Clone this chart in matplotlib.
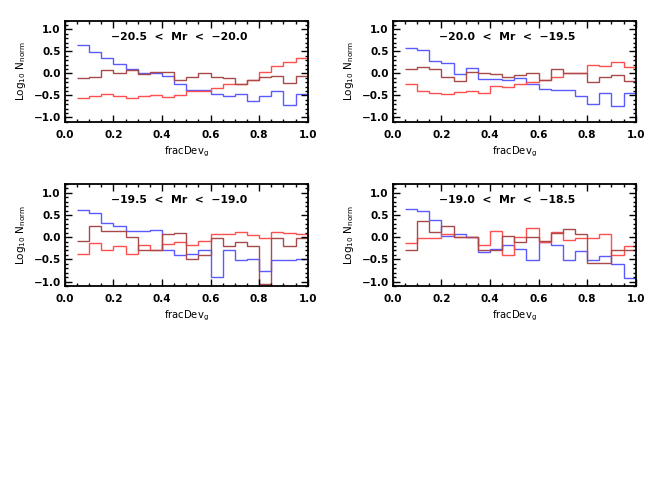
import numpy as np
import matplotlib
matplotlib.use('Agg')
import matplotlib.pyplot as plt
from matplotlib.ticker import MultipleLocator

plt.rcParams['font.family'] = ['DejaVu Sans']
plt.rcParams['font.weight'] = 'bold'
plt.rcParams['mathtext.fontset'] = 'custom'
plt.rcParams['mathtext.rm'] = 'DejaVu Sans:bold'
plt.rcParams['mathtext.it'] = 'DejaVu Sans:bold'

# bin edges for fracDev_g histograms
edges = np.arange(0.05, 1.0001, 0.05)

titles = ['-20.5 < Mr < -20.0', '-20.0 < Mr < -19.5',
          '-19.5 < Mr < -19.0', '-19.0 < Mr < -18.5']

# log10 N_norm per bin
blue1 = [0.64, 0.49, 0.36, 0.22, 0.09, 0.02, 0.01, -0.05, -0.23, -0.38,
         -0.38, -0.47, -0.52, -0.47, -0.62, -0.52, -0.40, -0.72, -0.47]
red1 = [-0.56, -0.51, -0.47, -0.52, -0.57, -0.52, -0.50, -0.54, -0.50, -0.40,
        -0.39, -0.34, -0.25, -0.23, -0.14, 0.04, 0.17, 0.25, 0.35]
brown1 = [-0.11, -0.09, 0.07, 0.02, 0.07, -0.01, 0.04, 0.04, -0.14, -0.07,
          0.02, -0.07, -0.10, -0.23, -0.16, -0.09, -0.06, -0.22, -0.06]

blue2 = [0.58, 0.53, 0.28, 0.23, -0.01, 0.12, -0.12, -0.12, -0.14, -0.10,
         -0.25, -0.35, -0.38, -0.38, -0.52, -0.69, -0.45, -0.74, -0.45]
red2 = [-0.25, -0.41, -0.45, -0.46, -0.43, -0.41, -0.45, -0.29, -0.32, -0.23,
        -0.20, -0.14, -0.07, 0.02, 0.00, 0.19, 0.17, 0.25, 0.14]
brown2 = [0.11, 0.15, 0.09, -0.09, -0.18, 0.04, 0.01, -0.01, -0.09, -0.03,
          0.01, -0.16, 0.09, 0.00, 0.02, -0.20, -0.09, -0.03, -0.18]

blue3 = [0.61, 0.54, 0.31, 0.26, 0.14, 0.14, 0.17, -0.30, -0.41, -0.37,
         -0.30, -0.90, -0.30, -0.52, -0.50, -0.77, -0.52, -0.52, -0.49]
red3 = [-0.37, -0.14, -0.30, -0.21, -0.38, -0.17, -0.30, -0.15, -0.12, -0.17,
        -0.08, 0.07, 0.07, 0.12, 0.04, -0.01, 0.12, 0.10, 0.08]
brown3 = [-0.09, 0.25, 0.14, 0.14, 0.01, -0.28, -0.28, 0.08, 0.09, -0.50,
          -0.41, -0.03, -0.20, -0.10, -0.20, -1.05, -0.03, -0.20, -0.01]

blue4 = [0.64, 0.59, 0.39, 0.03, 0.08, 0.01, -0.33, -0.26, -0.17, -0.27,
         -0.52, -0.12, -0.17, -0.52, -0.32, -0.52, -0.43, -0.61, -0.92]
red4 = [-0.14, -0.01, -0.03, 0.07, 0.01, 0.01, -0.17, 0.14, -0.41, 0.01,
        0.21, -0.12, 0.12, -0.07, -0.03, -0.03, 0.06, -0.41, -0.19]
brown4 = [-0.28, 0.37, 0.12, 0.26, 0.01, 0.01, -0.28, -0.28, 0.03, -0.12,
          0.01, -0.08, 0.09, 0.19, 0.08, -0.59, -0.59, -0.28, -0.28]

panels = [(blue1, red1, brown1), (blue2, red2, brown2),
          (blue3, red3, brown3), (blue4, red4, brown4)]

xticks = [0.0, 0.2, 0.4, 0.6, 0.8, 1.0]
yticks = [-1.0, -0.5, 0.0, 0.5, 1.0]

# axes positions in figure fractions
positions = [[0.099, 0.753, 0.370, 0.205], [0.599, 0.753, 0.370, 0.205],
             [0.099, 0.420, 0.370, 0.207], [0.599, 0.420, 0.370, 0.207]]

fig = plt.figure(figsize=(6.56, 4.93), dpi=100)

for i in range(4):
    ax = fig.add_axes(positions[i])
    blue, red, brown = panels[i]
    ax.stairs(blue, edges, baseline=None, color='#5a5aff', lw=1.0)
    ax.stairs(red, edges, baseline=None, color='#ff5050', lw=1.0)
    ax.stairs(brown, edges, baseline=None, color='#a84a4a', lw=1.0)
    ax.set_xlim(0, 1.0)
    ax.set_ylim(-1.1, 1.2)
    ax.set_xticks(xticks)
    ax.set_xticklabels(['%.1f' % v for v in xticks])
    ax.set_yticks(yticks)
    ax.set_yticklabels([('%.1f' % v).replace('-', '\u2212') for v in yticks])
    ax.xaxis.set_minor_locator(MultipleLocator(0.05))
    ax.yaxis.set_minor_locator(MultipleLocator(0.1))
    ax.tick_params(which='both', direction='in', top=True, right=True,
                   labelsize=7.5, width=1)
    ax.tick_params(axis='x', which='major', pad=6)
    ax.tick_params(axis='y', which='major', pad=3)
    ax.tick_params(which='major', length=5)
    ax.tick_params(which='minor', length=2.5)
    for s in ax.spines.values():
        s.set_linewidth(1.3)
    ax.text(0.47, 0.84, titles[i].replace('-', '\u2212').replace(' < ', '  <  '),
            transform=ax.transAxes, ha='center', va='center', fontsize=7.8)
    ax.set_xlabel('fracDev$_\\mathregular{g}$', fontsize=7.2, labelpad=3)
    ax.set_ylabel('Log$_\\mathregular{10}$ N$_\\mathregular{norm}$', fontsize=7.5, labelpad=4)

plt.savefig('out.png', dpi=100)
